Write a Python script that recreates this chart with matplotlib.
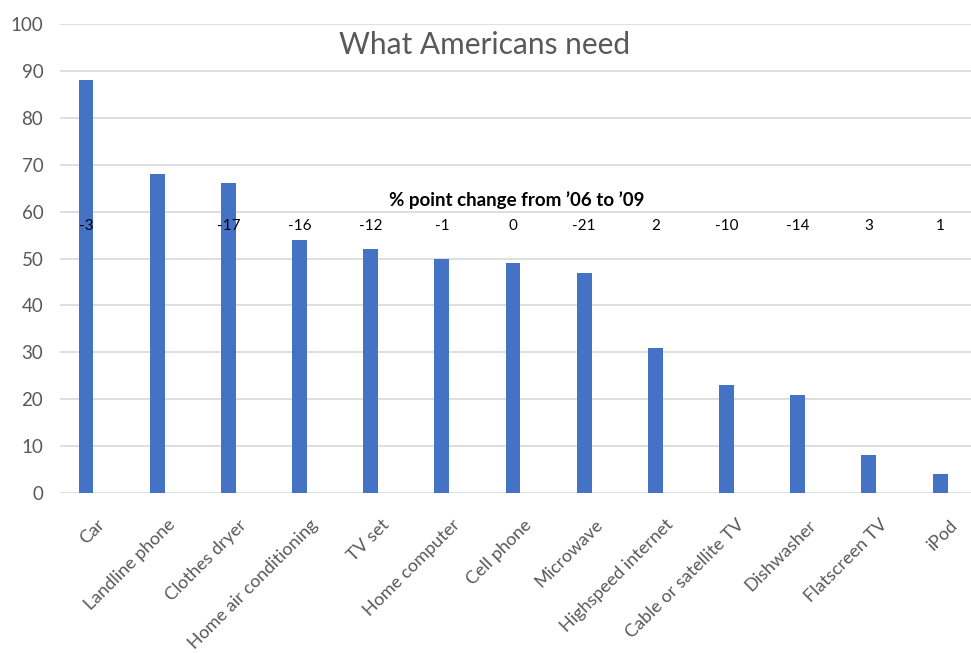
import matplotlib.pyplot as plt
from matplotlib.transforms import offset_copy

plt.rcParams['font.family'] = ['Lato', 'DejaVu Sans']

# 数据
items = ['Car', 'Landline phone', 'Clothes dryer', 'Home air conditioning', 'TV set',
         'Home computer', 'Cell phone', 'Microwave', 'Highspeed internet',
         'Cable or satellite TV', 'Dishwasher', 'Flatscreen TV', 'iPod']
need_pct = [88, 68, 66, 54, 52, 50, 49, 47, 31, 23, 21, 8, 4]
change = ['-3', '', '-17', '-16', '-12', '-1', '0', '-21', '2', '-10', '-14', '3', '1']
yticks = list(range(0, 101, 10))

bar_color = '#4472C4'
gray = '#595959'

fig = plt.figure(figsize=(9.71, 6.53), dpi=100, facecolor='white')
ax = fig.add_axes([60/971, 1-493/653, 911/971, (493-24)/653])

x = list(range(len(items)))
ax.bar(x, need_pct, width=0.21, color=bar_color, zorder=3)

ax.set_ylim(0, 100)
ax.set_xlim(-0.365, 12.435)
ax.set_yticks(yticks)
ax.yaxis.grid(True, color='#d9d9d9', linewidth=1.2, zorder=0)
for s in ax.spines.values():
    s.set_visible(False)
ax.tick_params(axis='both', length=0, colors=gray, labelsize=13.5)
ax.tick_params(axis='y', pad=12)
ax.set_xticks(x)
ax.set_xticklabels(items, rotation=45, ha='right', rotation_mode='anchor', color=gray, fontsize=13)
ax.tick_params(axis='x', pad=17)
# x标签向右移一点
for lbl in ax.get_xticklabels():
    lbl.set_transform(offset_copy(lbl.get_transform(), fig=fig, x=10, y=0, units='dots'))

# 变化数值
for xi, c in zip(x, change):
    if c:
        ax.text(xi, 57, c, ha='center', va='center', fontsize=11, color='black', zorder=4)
ax.text(6.05, 62.5, "% point change from \u201906 to \u201909", ha='center', va='center',
        fontsize=13.5, fontweight='bold', color='black', zorder=4)

# 标题
ax.text(5.6, 95.5, 'What Americans need', ha='center', va='center', fontsize=21.5, color=gray, zorder=4)

fig.savefig('out.png', dpi=100, facecolor='white')
